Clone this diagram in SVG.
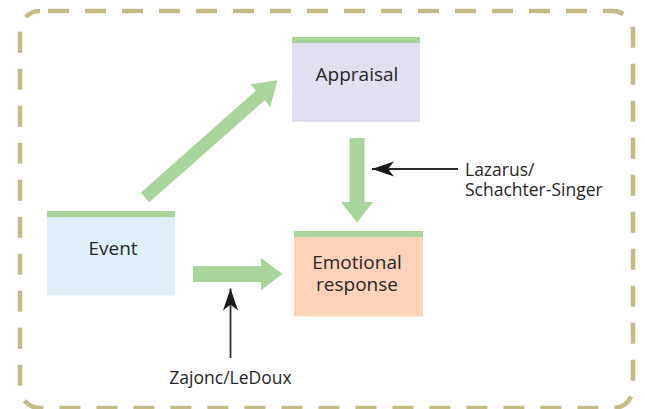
<svg xmlns="http://www.w3.org/2000/svg" width="645" height="409" viewBox="0 0 645 409">
<style>
.box-text{font-family:"Open Sans","DejaVu Sans",sans-serif;font-size:19px;fill:#262626;text-anchor:middle}
.lbl{font-family:"Open Sans","DejaVu Sans",sans-serif;font-size:17.5px;fill:#262626}
.bar{fill:#a8d59a}
.garrow{fill:#a8d59a}
.karrow{stroke:#2a2a2a;stroke-width:1.8;fill:none}
</style>
<defs>
<marker id="ah" markerUnits="userSpaceOnUse" markerWidth="26" markerHeight="18" viewBox="-24 -9 26 18" refX="0" refY="0" orient="auto">
<path d="M0,0 L-22,-7.5 L-16,0 L-22,7.5 Z" fill="#1a1a1a"/>
</marker>
</defs>
<rect id="frame" x="20" y="11" width="613" height="397" rx="20" ry="20" fill="none" stroke="#c4bc84" stroke-width="4.5" stroke-dasharray="21 16" stroke-dashoffset="-8"/>
<g id="appraisal">
<rect x="292" y="43" width="128" height="79" fill="#e1dff0"/>
<rect class="bar" x="292" y="37" width="128" height="6"/>
<text class="box-text" x="357" y="81">Appraisal</text>
</g>
<g id="event">
<rect x="47" y="216.5" width="128" height="79" fill="#def1fb"/>
<rect class="bar" x="47" y="211" width="128" height="6"/>
<text class="box-text" x="113" y="255">Event</text>
</g>
<g id="emotional-response">
<rect x="294" y="236.5" width="129" height="80" fill="#fed3b9"/>
<rect class="bar" x="294" y="231" width="129" height="6"/>
<text class="box-text" x="357" y="269">Emotional</text>
<text class="box-text" x="357" y="290.5">response</text>
</g>
<g id="connectors">
<polygon class="garrow" transform="translate(145 197.5) rotate(-41.5)" points="0,-6.5 154,-6.5 154,-15 177,0 154,15 154,6.5 0,6.5"/>
<polygon class="garrow" points="349.5,138 364.5,138 364.5,202 373,202 357,222.5 341,202 349.5,202"/>
<polygon class="garrow" points="193,266 261,266 261,258 282.5,274 261,290 261,282 193,282"/>
<line class="karrow" x1="458" y1="169" x2="372" y2="169" marker-end="url(#ah)"/>
<line class="karrow" x1="230.5" y1="358" x2="230.5" y2="288.5" marker-end="url(#ah)"/>
</g>
<g id="labels">
<text class="lbl" x="465" y="176">Lazarus/</text>
<text class="lbl" x="465" y="195.5">Schachter-Singer</text>
<text class="lbl" x="230.5" y="384" text-anchor="middle">Zajonc/LeDoux</text>
</g>
</svg>
